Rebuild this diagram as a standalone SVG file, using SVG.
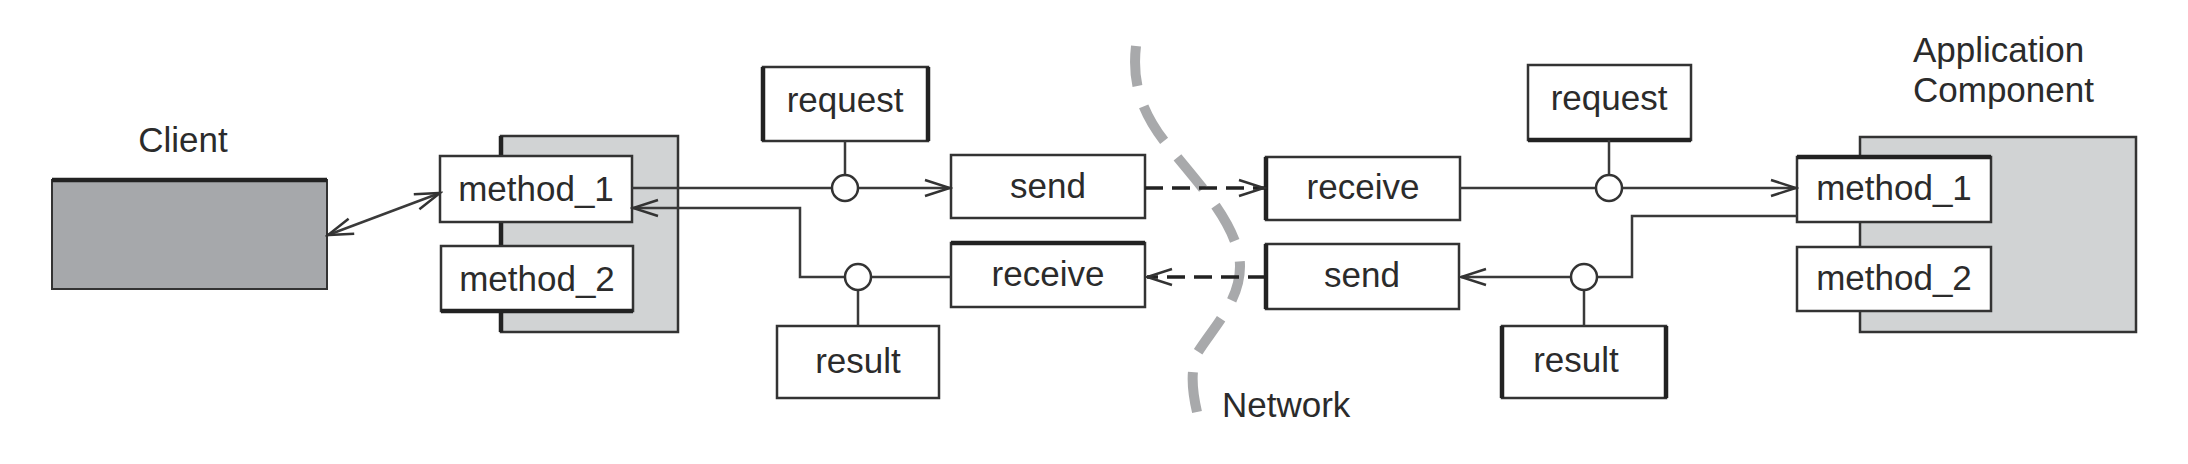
<svg xmlns="http://www.w3.org/2000/svg" width="2188" height="464" viewBox="0 0 2188 464">
<style>
text{font-family:"Liberation Sans",Arial,Helvetica,sans-serif;font-size:35px;fill:#2b2b2b}
.c{text-anchor:middle}
.box{fill:#fff;stroke:#333;stroke-width:2.5}
.edge{stroke:#222;stroke-width:4.5;fill:none}
.ln{fill:none;stroke:#3a3a3a;stroke-width:2.5}
.dash{fill:none;stroke:#222;stroke-width:3.5;stroke-dasharray:18 9}
.lol{fill:#fff;stroke:#333;stroke-width:2.5}
</style>
<defs>
<marker id="arr" viewBox="-28 -11 31 22" refX="0" refY="0" markerWidth="31" markerHeight="22" markerUnits="userSpaceOnUse" orient="auto-start-reverse">
<path d="M-25,-8 L0,0 L-25,8" fill="none" stroke="#333" stroke-width="2.5"/>
</marker>
</defs>
<rect width="2188" height="464" fill="#fff"/>

<g id="network">
<path d="M1136,46 C1132,80 1140,110 1165,142 C1195,180 1230,215 1239,255 C1246,295 1215,325 1198,352 C1190,370 1192,390 1197,412" pathLength="1000" fill="none" stroke="#a8a9ab" stroke-width="10" stroke-dasharray="98.5 51.8"/>
<text x="1222" y="417">Network</text>
</g>

<g id="client">
<rect x="52" y="180" width="275" height="109" fill="#a6a8ab" stroke="#333" stroke-width="2"/>
<line x1="52" y1="180" x2="327" y2="180" class="edge"/>
<text x="183" y="152" class="c">Client</text>
</g>

<g id="proxy">
<rect x="501" y="136" width="177" height="196" fill="#d1d3d4" stroke="#333" stroke-width="2.5"/>
<line x1="501" y1="136" x2="501" y2="332" class="edge"/>
</g>
<g id="method1-left">
<rect x="440" y="156" width="192" height="66" class="box"/>
<text x="536" y="201" class="c">method_1</text>
</g>
<g id="method2-left">
<rect x="441" y="246" width="192" height="65" class="box"/>
<line x1="441" y1="311" x2="633" y2="311" class="edge"/>
<text x="537" y="291" class="c">method_2</text>
</g>
<g id="request-left">
<rect x="763" y="67" width="165" height="74" class="box"/>
<line x1="763" y1="67" x2="763" y2="141" class="edge" stroke-width="3.5"/>
<line x1="928" y1="67" x2="928" y2="141" class="edge" stroke-width="3.5"/>
<text x="845" y="112" class="c">request</text>
</g>
<g id="send-left">
<rect x="951" y="155" width="194" height="63" class="box"/>
<text x="1048" y="198" class="c">send</text>
</g>
<g id="receive-left">
<rect x="951" y="243" width="194" height="64" class="box"/>
<line x1="951" y1="243" x2="1145" y2="243" class="edge"/>
<text x="1048" y="286" class="c">receive</text>
</g>
<g id="result-left">
<rect x="777" y="326" width="162" height="72" class="box"/>
<text x="858" y="373" class="c">result</text>
</g>

<g id="receive-right">
<rect x="1266" y="157" width="194" height="63" class="box"/>
<line x1="1266" y1="157" x2="1266" y2="220" class="edge"/>
<text x="1363" y="199" class="c">receive</text>
</g>
<g id="send-right">
<rect x="1266" y="244" width="193" height="65" class="box"/>
<line x1="1266" y1="244" x2="1266" y2="309" class="edge"/>
<text x="1362" y="287" class="c">send</text>
</g>
<g id="request-right">
<rect x="1528" y="65" width="163" height="75" class="box"/>
<line x1="1528" y1="140" x2="1691" y2="140" class="edge"/>
<text x="1609" y="110" class="c">request</text>
</g>
<g id="result-right">
<rect x="1502" y="326" width="164" height="72" class="box"/>
<line x1="1502" y1="326" x2="1502" y2="398" class="edge"/>
<line x1="1666" y1="326" x2="1666" y2="398" class="edge"/>
<text x="1576" y="372" class="c">result</text>
</g>
<g id="app-component">
<rect x="1860" y="137" width="276" height="195" fill="#d1d3d4" stroke="#333" stroke-width="2.5"/>
<text x="1913" y="62">Application</text>
<text x="1913" y="102">Component</text>
</g>
<g id="method1-right">
<rect x="1797" y="157" width="194" height="65" class="box"/>
<line x1="1797" y1="157" x2="1991" y2="157" class="edge"/>
<text x="1894" y="200" class="c">method_1</text>
</g>
<g id="method2-right">
<rect x="1797" y="247" width="194" height="64" class="box"/>
<text x="1894" y="290" class="c">method_2</text>
</g>

<g id="connectors">
<line x1="328" y1="235" x2="440" y2="193" class="ln" marker-start="url(#arr)" marker-end="url(#arr)"/>
<line x1="632" y1="188" x2="950" y2="188" class="ln" marker-end="url(#arr)"/>
<line x1="845" y1="141" x2="845" y2="175" class="ln" stroke-width="3.5"/>
<circle cx="845" cy="188" r="13" class="lol"/>
<line x1="1145" y1="188" x2="1264" y2="188" class="dash" marker-end="url(#arr)"/>
<line x1="1460" y1="188" x2="1796" y2="188" class="ln" marker-end="url(#arr)"/>
<line x1="1609" y1="140" x2="1609" y2="175" class="ln"/>
<circle cx="1609" cy="188" r="13" class="lol"/>
<path d="M1797,216 H1632 V277 H1461" class="ln" marker-end="url(#arr)"/>
<line x1="1584" y1="290" x2="1584" y2="326" class="ln"/>
<circle cx="1584" cy="277" r="13" class="lol"/>
<line x1="1266" y1="277" x2="1147" y2="277" class="dash" marker-end="url(#arr)"/>
<path d="M951,277 H800 V208 H633" class="ln" marker-end="url(#arr)"/>
<line x1="858" y1="290" x2="858" y2="326" class="ln"/>
<circle cx="858" cy="277" r="13" class="lol"/>
</g>
</svg>
